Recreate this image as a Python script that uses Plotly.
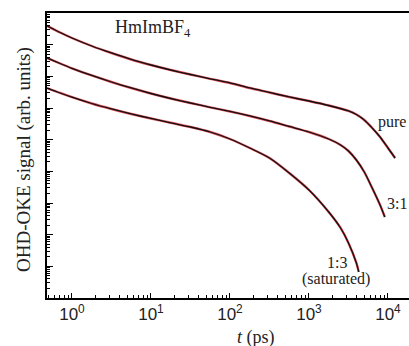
import plotly.graph_objects as go

# log10(time / ps) and log10(signal, arb. units)
log_t_pure = [-0.316, -0.15, 0.0, 0.25, 0.5, 0.75, 1.0, 1.25, 1.5, 1.75, 2.0, 2.25, 2.5, 2.75,
              3.0, 3.25, 3.5, 3.6, 3.7, 3.8, 3.9, 4.0, 4.09]
log_s_pure = [-0.405, -0.616, -0.789, -1.042, -1.263, -1.468, -1.642, -1.800, -1.942, -2.078,
              -2.210, -2.368, -2.510, -2.652, -2.779, -2.921, -3.094, -3.205, -3.379, -3.631,
              -3.915, -4.263, -4.579]

log_t_31 = [-0.316, -0.15, 0.0, 0.25, 0.5, 0.75, 1.0, 1.25, 1.5, 1.75, 2.0, 2.25, 2.5, 2.75,
            3.0, 3.25, 3.4, 3.5, 3.6, 3.7, 3.8, 3.9, 3.96]
log_s_31 = [-1.420, -1.595, -1.746, -1.973, -2.179, -2.368, -2.542, -2.700, -2.842, -2.978,
            -3.110, -3.252, -3.410, -3.584, -3.758, -3.979, -4.168, -4.358, -4.642, -5.021,
            -5.526, -6.063, -6.442]

log_t_13 = [-0.316, -0.15, 0.0, 0.25, 0.5, 0.75, 1.0, 1.25, 1.5, 1.75, 2.0, 2.25, 2.5, 2.75,
            3.0, 3.25, 3.4, 3.5, 3.6, 3.63]
log_s_13 = [-2.369, -2.526, -2.659, -2.858, -3.031, -3.189, -3.331, -3.467, -3.600, -3.758,
            -3.979, -4.263, -4.579, -5.052, -5.589, -6.284, -6.789, -7.262, -7.894, -8.178]

x_ticks = [1, 10, 100, 1000, 10000]
x_tick_text = ["10<sup>0</sup>", "10<sup>1</sup>", "10<sup>2</sup>", "10<sup>3</sup>", "10<sup>4</sup>"]

fig = go.Figure()
for lt, ls in [(log_t_pure, log_s_pure), (log_t_31, log_s_31), (log_t_13, log_s_13)]:
    tx = [10 ** v for v in lt]
    sy = [10 ** v for v in ls]
    fig.add_trace(go.Scatter(x=tx, y=sy, mode="lines",
                             line=dict(color="#e0505a", width=2.4, shape="spline", smoothing=0.8),
                             showlegend=False, hoverinfo="skip", cliponaxis=True))
    fig.add_trace(go.Scatter(x=tx, y=sy, mode="lines",
                             line=dict(color="#111111", width=1.3, shape="spline", smoothing=0.8),
                             showlegend=False, hoverinfo="skip", cliponaxis=True))

serif = "Liberation Serif"
fig.update_layout(
    width=409, height=346,
    margin=dict(l=47, r=0, t=13, b=48),
    paper_bgcolor="white", plot_bgcolor="white",
    xaxis=dict(type="log", range=[-0.316, 4.266], showline=True, linecolor="black", linewidth=1.5,
               mirror=True, ticks="inside", ticklen=5, tickcolor="black", showgrid=False,
               tickvals=x_ticks, ticktext=x_tick_text,
               tickfont=dict(family="Liberation Sans", size=17, color="#222"),
               minor=dict(ticks="inside", ticklen=3, tickcolor="black", dtick="D1", showgrid=False),
               zeroline=False),
    yaxis=dict(type="log", range=[-9, 0], showline=True, linecolor="black", linewidth=1.5,
               ticks="inside", ticklen=6, tickcolor="black", showgrid=False, showticklabels=False,
               dtick=1,
               minor=dict(ticks="inside", ticklen=3, tickcolor="black", dtick="D1", showgrid=False),
               zeroline=False),
)

ann = [
    dict(x=0.293, y=0.947, text="HmImBF<sub>4</sub>", size=18),
    dict(x=0.953, y=0.618, text="pure", size=16),
    dict(x=0.967, y=0.33, text="3:1", size=16),
    dict(x=0.801, y=0.123, text="1:3", size=16),
    dict(x=0.798, y=0.067, text="(saturated)", size=16),
]
for a in ann:
    fig.add_annotation(x=a["x"], y=a["y"], xref="paper", yref="paper", text=a["text"], showarrow=False,
                       font=dict(family=serif, size=a["size"], color="#222"), xanchor="center", yanchor="middle")

fig.add_annotation(x=(256 - 47) / 362, y=-(337 - 298) / 285, xref="paper", yref="paper",
                   text="<i>t</i> (ps)", showarrow=False, font=dict(family=serif, size=18, color="#222"),
                   xanchor="center", yanchor="middle")
fig.add_annotation(x=-(47 - 24) / 362, y=(298 - 160) / 285, xref="paper", yref="paper",
                   text="OHD-OKE signal (arb. units)", showarrow=False, textangle=-90,
                   font=dict(family=serif, size=19, color="#222"), xanchor="center", yanchor="middle")

fig.write_html("out.html")
